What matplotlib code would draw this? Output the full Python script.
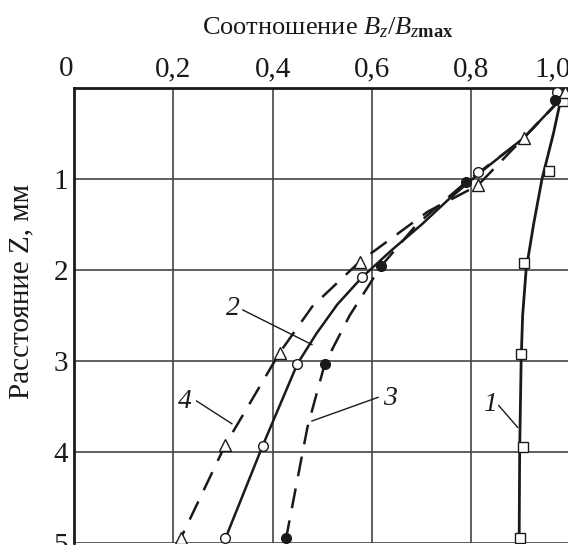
import matplotlib.pyplot as plt

plt.rcParams['font.family'] = ['Liberation Serif', 'DejaVu Serif']
plt.rcParams['mathtext.fontset'] = 'custom'
plt.rcParams['mathtext.rm'] = 'Liberation Serif'
plt.rcParams['mathtext.it'] = 'Liberation Serif:italic'
plt.rcParams['mathtext.bf'] = 'Liberation Serif:bold'

# Curve 1 - open squares, solid line
c1_mx = [0.984, 0.956, 0.905, 0.900, 0.904, 0.897]
c1_mz = [0.14, 0.91, 1.92, 2.92, 3.94, 4.94]
c1_lx = [0.980, 0.965, 0.942, 0.925, 0.910, 0.903, 0.900, 0.897, 0.896]
c1_lz = [0.12, 0.50, 1.00, 1.50, 2.00, 2.50, 3.00, 4.00, 5.00]

# Curve 2 - open circles, solid line
c2_mx = [0.972, 0.813, 0.580, 0.450, 0.380, 0.305]
c2_mz = [0.05, 0.92, 2.08, 3.03, 3.93, 4.95]
c2_lx = [0.980, 0.905, 0.813, 0.755, 0.700, 0.640, 0.580, 0.530, 0.488, 0.450, 0.380, 0.305]
c2_lz = [0.12, 0.55, 0.95, 1.22, 1.50, 1.78, 2.08, 2.38, 2.70, 3.03, 3.93, 4.95]

# Curve 3 - filled circles, dashed line
c3_mx = [0.968, 0.790, 0.618, 0.505, 0.427]
c3_mz = [0.13, 1.03, 1.96, 3.03, 4.95]
c3_lx = [0.980, 0.900, 0.790, 0.690, 0.618, 0.555, 0.505, 0.470, 0.427]
c3_lz = [0.12, 0.58, 1.03, 1.50, 1.96, 2.50, 3.03, 3.73, 4.95]

# Curve 4 - open triangles, dashed line
c4_mx = [0.988, 0.905, 0.813, 0.575, 0.414, 0.305, 0.215]
c4_mz = [0.05, 0.55, 1.07, 1.91, 2.91, 3.92, 4.95]
c4_lx = [0.980, 0.905, 0.813, 0.712, 0.575, 0.480, 0.414, 0.305, 0.215]
c4_lz = [0.12, 0.55, 1.07, 1.36, 1.91, 2.40, 2.91, 3.92, 4.95]

x_ticks = [0, 0.2, 0.4, 0.6, 0.8, 1.0]
x_labels = ['0', '0,2', '0,4', '0,6', '0,8', '1,0']
z_ticks = [1, 2, 3, 4, 5]
z_labels = ['1', '2', '3', '4', '5']

# curve labels: (text, text x, text z, leader start, leader end)
labels = [
    ('1', 0.837, 3.48, (0.855, 3.49), (0.893, 3.73)),
    ('2', 0.320, 2.42, (0.340, 2.44), (0.479, 2.82)),
    ('3', 0.636, 3.41, (0.612, 3.40), (0.479, 3.66)),
    ('4', 0.223, 3.45, (0.247, 3.44), (0.318, 3.69)),
]

fig = plt.figure(figsize=(5.68, 5.45), dpi=100)
ax = fig.add_axes([0.130, 0.0037, 0.875, 0.835])

ink = '#1a1a1a'
ax.plot(c1_lx, c1_lz, color=ink, lw=2.0, zorder=3)
ax.plot(c1_mx, c1_mz, ls='none', marker='s', ms=6.5, mfc='white', mec=ink, mew=1.0, zorder=4)

ax.plot(c2_lx, c2_lz, color=ink, lw=1.8, zorder=3)
ax.plot(c2_mx, c2_mz, ls='none', marker='o', ms=7, mfc='white', mec=ink, mew=1.0, zorder=4)

ax.plot(c3_lx, c3_lz, color=ink, lw=1.8, dashes=(8, 5), zorder=3)
ax.plot(c3_mx, c3_mz, ls='none', marker='o', ms=7, mfc=ink, mec=ink, zorder=4)

ax.plot(c4_lx, c4_lz, color=ink, lw=1.8, dashes=(8, 5), zorder=3)
ax.plot(c4_mx, c4_mz, ls='none', marker='^', ms=8, mfc='white', mec=ink, mew=1.0, zorder=4)

for txt, tx, tz, p0, p1 in labels:
    ax.text(tx, tz, txt, fontsize=20, style='italic', ha='center', va='center', color=ink)
    ax.plot([p0[0], p1[0]], [p0[1], p1[1]], color=ink, lw=1.0, zorder=3)

ax.set_xlim(0, 1.0)
ax.set_ylim(5, 0)
ax.xaxis.tick_top()
ax.set_xticks(x_ticks)
ax.set_xticklabels(x_labels)
ax.set_yticks(z_ticks)
ax.set_yticklabels(z_labels)
ax.tick_params(length=0, labelsize=21, pad=4, colors=ink)
xt = ax.get_xticklabels()
xt[0].set_ha('right')
xt[-1].set_ha('right')
ax.grid(True, color='#444444', lw=1.2)
ax.set_axisbelow(True)
for s in ['left', 'top']:
    ax.spines[s].set_linewidth(2.0)
    ax.spines[s].set_color(ink)
ax.spines['right'].set_visible(False)
ax.spines['bottom'].set_visible(False)

ax.set_ylabel('Расстояние Z, мм', fontsize=21, color=ink)
ax.yaxis.set_label_coords(-0.080, 0.552)
fig.text(0.578, 0.950, r'Соотношение $B_z/B_{z\mathbf{max}}$', fontsize=19,
         ha='center', va='center', color=ink)

fig.savefig('out.png', dpi=100)
